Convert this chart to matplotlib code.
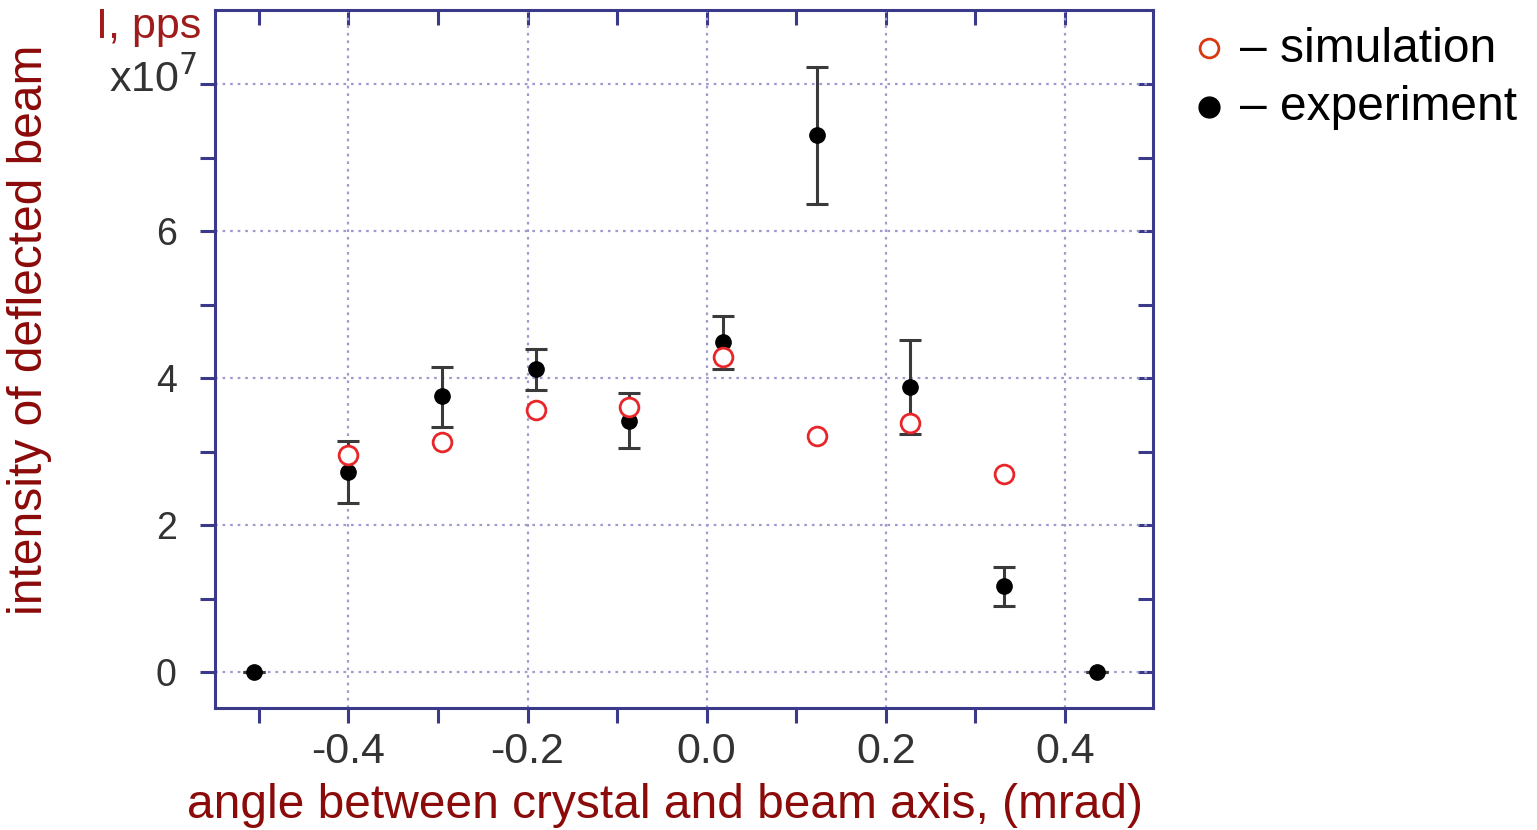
import matplotlib
matplotlib.use("Agg")
import matplotlib.pyplot as plt
from matplotlib.ticker import FixedLocator

plt.rcParams['font.family'] = ['Liberation Sans', 'DejaVu Sans']

# angle between crystal and beam axis (mrad)
exp_angle = [-0.505, -0.400, -0.296, -0.191, -0.087, 0.018, 0.123, 0.227, 0.332, 0.436]
# measured intensity, 1e7 pps
exp_intensity = [0.0, 2.72, 3.76, 4.12, 3.41, 4.49, 7.31, 3.88, 1.17, 0.0]
exp_err_low = [0.0, 0.42, 0.43, 0.28, 0.36, 0.37, 0.94, 0.64, 0.27, 0.0]
exp_err_high = [0.0, 0.42, 0.39, 0.27, 0.39, 0.35, 0.93, 0.64, 0.26, 0.0]

sim_angle = [-0.400, -0.296, -0.191, -0.087, 0.018, 0.123, 0.227, 0.332]
sim_intensity = [2.95, 3.13, 3.56, 3.61, 4.29, 3.21, 3.39, 2.69]

x_ticks = [-0.4, -0.2, 0.0, 0.2, 0.4]
x_minor = [-0.5, -0.3, -0.1, 0.1, 0.3]
x_tick_labels = ['-0.4', '-0.2', '0.0', '0.2', '0.4']
y_ticks = [0, 2, 4, 6, 8]
y_minor = [1, 3, 5, 7]
y_tick_labels = ['0', '2', '4', '6', '']

frame_col = '#3b3a8a'
grid_col = '#9d9bd0'
red = '#8b0a0a'
tick_txt = '#333333'

fig = plt.figure(figsize=(15.37, 8.30), dpi=100)
ax = fig.add_axes([215 / 1537, 1 - 708 / 830, (1153 - 215) / 1537, (708 - 10) / 830])

ax.set_xlim(-0.549, 0.4985)
ax.set_ylim(-0.49, 9.01)

for s in ax.spines.values():
    s.set_color(frame_col)
    s.set_linewidth(2.2)

ax.xaxis.set_major_locator(FixedLocator(x_ticks))
ax.xaxis.set_minor_locator(FixedLocator(x_minor))
ax.yaxis.set_major_locator(FixedLocator(y_ticks))
ax.yaxis.set_minor_locator(FixedLocator(y_minor))
ax.set_xticklabels(x_tick_labels)
ax.set_yticklabels(y_tick_labels)

ax.tick_params(which='both', color=frame_col, width=2.2, length=11,
               labelcolor=tick_txt)
ax.tick_params(axis='x', which='both', direction='out', top=False, pad=6.5,
               labelsize=31)
ax.tick_params(axis='y', which='both', direction='out', right=False, pad=16.5,
               labelsize=27)

# inward ticks on the top and right edges
ax_top = ax.secondary_xaxis('top')
ax_top.xaxis.set_major_locator(FixedLocator(x_ticks))
ax_top.xaxis.set_minor_locator(FixedLocator(x_minor))
ax_top.tick_params(which='both', direction='in', color=frame_col, width=2.2,
                   length=11, labeltop=False)
ax_top.spines['top'].set_visible(False)
ax_right = ax.secondary_yaxis('right')
ax_right.yaxis.set_major_locator(FixedLocator(y_ticks))
ax_right.yaxis.set_minor_locator(FixedLocator(y_minor))
ax_right.tick_params(which='both', direction='in', color=frame_col, width=2.2,
                     length=11, labelright=False)
ax_right.spines['right'].set_visible(False)

ax.grid(True, which='major', color=grid_col, linestyle=(0, (1.2, 2.2)), linewidth=1.6)
ax.set_axisbelow(True)

ax.errorbar(exp_angle, exp_intensity, yerr=[exp_err_low, exp_err_high],
            fmt='o', color='black', ecolor='#3a3a3a', elinewidth=2.2,
            capsize=8, capthick=2.2, markersize=11, zorder=3)
ax.plot(sim_angle, sim_intensity, 'o', mfc='white', mec='#e8262a',
        mew=2, markersize=13.5, zorder=4)

fig.text(665 / 1537, 1 - 805 / 830, 'angle between crystal and beam axis, (mrad)',
         color=red, fontsize=34.5, ha='center', va='center')
fig.text(30 / 1537, 1 - 330 / 830, 'intensity of deflected beam', color=red,
         fontsize=34.5, rotation=90, ha='center', va='center')

fig.text(201 / 1537, 1 - 27 / 830, 'I, pps', color='#a01c1c', fontsize=31,
         ha='right', va='center')
fig.text(197 / 1537, 1 - 79 / 830, r'x10$^7$', color=tick_txt, fontsize=31,
         ha='right', va='center')

# key to the two series
fig.add_artist(plt.Line2D([1209 / 1537], [1 - 48 / 830], marker='o', ls='none',
                          mfc='white', mec='#d8380f', mew=2, markersize=13.5,
                          transform=fig.transFigure))
fig.add_artist(plt.Line2D([1209 / 1537], [1 - 107 / 830], marker='o', ls='none',
                          mfc='black', mec='black', markersize=15,
                          transform=fig.transFigure))
fig.text(1240 / 1537, 1 - 49 / 830, '\u2013 simulation', color='black',
         fontsize=34.5, ha='left', va='center')
fig.text(1240 / 1537, 1 - 108 / 830, '\u2013 experiment', color='black',
         fontsize=34.5, ha='left', va='center')

fig.savefig('out.png', dpi=100)
